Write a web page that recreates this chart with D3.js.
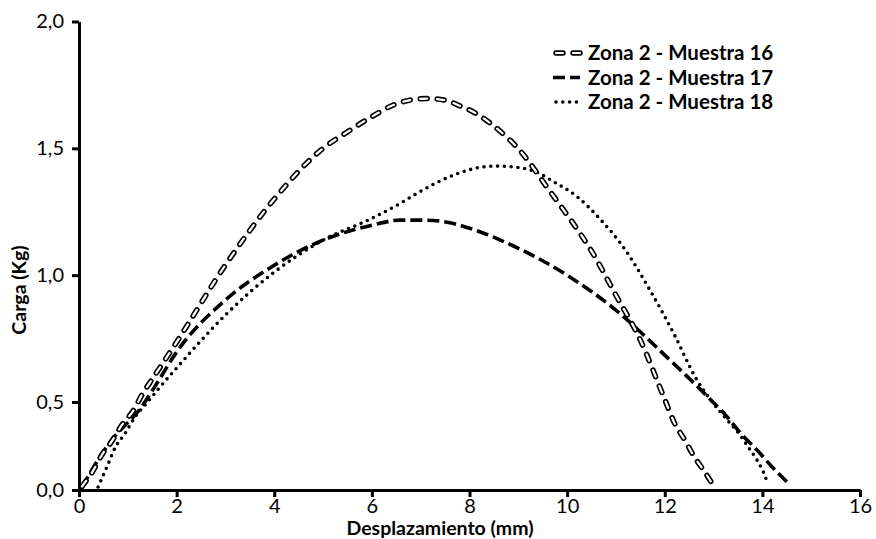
<!DOCTYPE html>
<html>
  <head>
    <meta charset="utf-8">
    <title>Carga vs Desplazamiento</title>
    <script type="text/javascript" src="https://d3js.org/d3.v7.min.js"></script>
    <style type="text/css">
      body { margin: 0; background: #fff; }
      svg { font-family: Lato, "Open Sans", sans-serif; }
      .axis path, .axis line { stroke: #000; stroke-width: 3; }
      .axis text { font-size: 20px; fill: #000; }
      .title { font-size: 19.5px; font-weight: bold; fill: #000; }
      .legend text { font-size: 20.5px; font-weight: bold; fill: #000; }
    </style>
  </head>
  <body>
    <script type="text/javascript">
    // Series values: [desplazamiento (mm), carga (Kg)]
    var names = ["Zona 2 - Muestra 16", "Zona 2 - Muestra 17", "Zona 2 - Muestra 18"];

    var muestra16 = [
      [0.06, 0.02], [0.29, 0.11], [0.47, 0.20], [0.68, 0.28], [0.88, 0.37],
      [1.11, 0.45], [1.31, 0.535], [1.50, 0.59], [2.0, 0.736], [3.0, 1.04],
      [4.0, 1.30], [5.0, 1.50], [5.5, 1.565], [6.0, 1.625], [6.43, 1.67],
      [6.78, 1.69], [7.13, 1.696], [7.5, 1.69], [7.77, 1.67], [8.11, 1.64],
      [8.42, 1.60], [8.73, 1.55], [9.04, 1.49], [9.30, 1.425], [9.59, 1.346],
      [9.90, 1.264], [10.12, 1.205], [10.49, 1.098], [11.0, 0.921], [11.5, 0.744],
      [12.0, 0.51], [12.2, 0.38], [12.41, 0.284], [12.58, 0.20], [12.79, 0.114],
      [12.99, 0.028], [13.05, 0.0]
    ];

    var muestra17 = [
      [0.06, 0.017], [0.59, 0.256], [1.31, 0.483], [1.60, 0.575], [2.0, 0.697],
      [3.0, 0.902], [4.0, 1.039], [5.0, 1.138], [6.0, 1.197], [6.58, 1.217],
      [7.05, 1.217], [7.54, 1.209], [8.0, 1.185], [9.0, 1.106], [10.0, 1.0],
      [11.0, 0.862], [12.0, 0.685], [12.93, 0.511], [13.28, 0.415], [13.55, 0.324],
      [13.89, 0.227], [14.22, 0.125], [14.57, 0.028]
    ];

    var muestra18 = [
      [0.39, 0.017], [0.57, 0.13], [0.74, 0.24], [0.94, 0.32], [1.15, 0.415],
      [1.39, 0.495], [1.66, 0.559], [2.0, 0.634], [3.0, 0.843], [4.0, 1.012],
      [5.0, 1.138], [6.0, 1.224], [6.58, 1.283], [6.93, 1.323], [7.34, 1.366],
      [7.75, 1.40], [8.22, 1.425], [8.57, 1.43], [8.98, 1.425], [9.39, 1.405],
      [9.71, 1.37], [10.2, 1.31], [10.68, 1.22], [11.19, 1.10], [11.7, 0.94],
      [12.21, 0.76], [12.62, 0.6], [12.99, 0.494], [13.28, 0.398], [13.55, 0.31],
      [13.71, 0.244], [13.89, 0.17], [14.02, 0.102], [14.1, 0.045]
    ];

    var xTicks = [0, 2, 4, 6, 8, 10, 12, 14, 16];
    var yTicks = [0, 0.5, 1.0, 1.5, 2.0];

    var width = 876;
    var height = 539;
    var padLeft = 79, padRight = 860, padTop = 21.5, padBottom = 490;

    var svg = d3.select("body")
                .append("svg")
                .attr("width", width)
                .attr("height", height);

    var xScale = d3.scaleLinear()
                   .domain([0, 16])
                   .range([padLeft, padRight]);

    // the original axis has a shorter first step (0,0 -> 0,5)
    var yScale = d3.scaleLinear()
                   .domain([0, 0.5, 2.0])
                   .range([padBottom, 402, padTop]);

    var line = d3.line()
                 .x(function(d){ return xScale(d[0]); })
                 .y(function(d){ return yScale(d[1]); })
                 .curve(d3.curveMonotoneX);

    var plot = svg.append("g");

    // Muestra 18: dotted
    plot.append("path")
        .attr("d", line(muestra18))
        .attr("fill", "none")
        .attr("stroke", "#000")
        .attr("stroke-width", 3.6)
        .attr("stroke-linecap", "round")
        .attr("stroke-dasharray", "0,6.8");

    // Muestra 17: heavy dashes
    plot.append("path")
        .attr("d", line(muestra17))
        .attr("fill", "none")
        .attr("stroke", "#000")
        .attr("stroke-width", 3.6)
        .attr("stroke-dasharray", "12,5");

    // Muestra 16: hollow dashes (black outline + white core)
    plot.append("path")
        .attr("d", line(muestra16))
        .attr("fill", "none")
        .attr("stroke", "#000")
        .attr("stroke-width", 5.5)
        .attr("stroke-linecap", "round")
        .attr("stroke-dasharray", "7,10");
    plot.append("path")
        .attr("d", line(muestra16))
        .attr("fill", "none")
        .attr("stroke", "#fff")
        .attr("stroke-width", 2.2)
        .attr("stroke-linecap", "round")
        .attr("stroke-dasharray", "7,10");

    // Axes
    var xAxis = d3.axisBottom(xScale)
                  .tickValues(xTicks)
                  .tickSize(7)
                  .tickSizeOuter(0)
                  .tickPadding(2)
                  .tickFormat(d3.format("d"));

    var yAxis = d3.axisLeft(yScale)
                  .tickValues(yTicks)
                  .tickSize(7)
                  .tickSizeOuter(0)
                  .tickPadding(8)
                  .tickFormat(function(d){ return d.toFixed(1).replace(".", ","); });

    svg.append("g")
       .attr("class", "axis")
       .attr("transform", "translate(0," + padBottom + ")")
       .call(xAxis);

    svg.append("g")
       .attr("class", "axis")
       .attr("transform", "translate(" + padLeft + ",0)")
       .call(yAxis);

    svg.selectAll(".axis").attr("font-family", null).attr("font-size", null);

    // Axis titles
    svg.append("text")
       .attr("class", "title")
       .attr("x", 440)
       .attr("y", 535)
       .attr("text-anchor", "middle")
       .text("Desplazamiento (mm)");

    svg.append("text")
       .attr("class", "title")
       .attr("transform", "translate(26,290) rotate(-90)")
       .attr("text-anchor", "middle")
       .text("Carga (Kg)");

    // Legend
    var legend = svg.append("g").attr("class", "legend");
    var styles = [
      {w: 5.5, dash: "7,10", cap: "round", hollow: true},
      {w: 3.6, dash: "12,5", cap: "butt"},
      {w: 3.6, dash: "0,6.8", cap: "round"}
    ];
    names.forEach(function(name, i){
      var yy = 53 + i * 24.5;
      var s = styles[i];
      var x1 = i == 1 ? 553 : 556, x2 = 580;
      legend.append("line")
            .attr("x1", x1).attr("x2", x2)
            .attr("y1", yy).attr("y2", yy)
            .attr("stroke", "#000")
            .attr("stroke-width", s.w)
            .attr("stroke-linecap", s.cap)
            .attr("stroke-dasharray", s.dash);
      if (s.hollow) {
        legend.append("line")
              .attr("x1", x1).attr("x2", x2)
              .attr("y1", yy).attr("y2", yy)
              .attr("stroke", "#fff")
              .attr("stroke-width", 2.2)
              .attr("stroke-linecap", "round")
              .attr("stroke-dasharray", s.dash);
      }
      legend.append("text")
            .attr("x", 588)
            .attr("y", yy)
            .attr("dy", "0.35em")
            .text(name);
    });
    </script>
  </body>
</html>
